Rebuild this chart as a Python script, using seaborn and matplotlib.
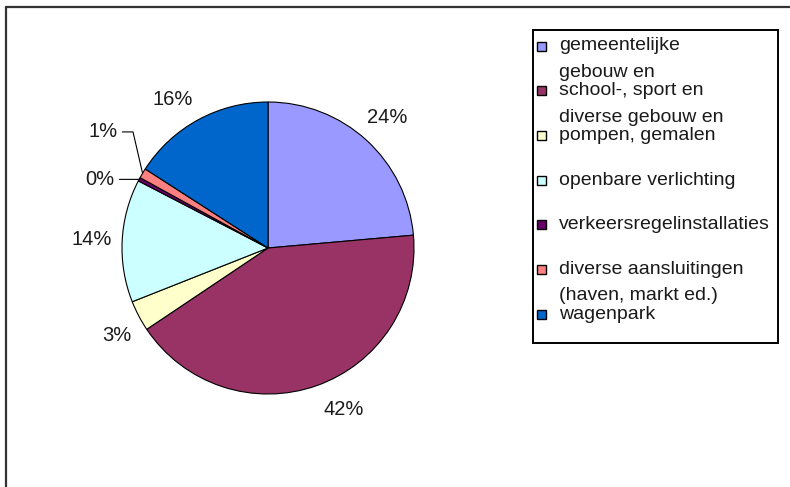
import numpy as np
import matplotlib
matplotlib.use("Agg")
import matplotlib.pyplot as plt
from matplotlib.patches import Rectangle
from matplotlib.lines import Line2D
from matplotlib.transforms import offset_copy
import seaborn as sns

# Energy use per category (percent shares)
categories = [
    "gemeentelijke gebouwen",
    "school-, sport en diverse gebouwen",
    "pompen, gemalen",
    "openbare verlichting",
    "verkeersregelinstallaties",
    "diverse aansluitingen (haven, markt ed.)",
    "wagenpark",
]
shares = [23.6, 42.0, 3.4, 13.6, 0.4, 1.1, 15.9]
slice_colors = ["#9999FF", "#993366", "#FFFFCC", "#CCFFFF", "#660066", "#FF8080", "#0066CC"]

# Legend lines as they wrap inside the legend box (first line beside the marker)
legend_lines = [
    ["gemeentelijke", "gebouw en"],
    ["school-, sport en", "diverse gebouw en"],
    ["pompen, gemalen"],
    ["openbare verlichting"],
    ["verkeersregelinstallaties"],
    ["diverse aansluitingen", "(haven, markt ed.)"],
    ["wagenpark"],
]

sns.set_theme(style="white")
plt.rcParams["font.family"] = ["Liberation Sans", "DejaVu Sans"]
palette = sns.color_palette(slice_colors)
text_color = "#1a1a1a"

W, H = 790, 487
fig = plt.figure(figsize=(W / 100, H / 100), dpi=100)
fig.patch.set_facecolor("white")

# outer frame (top and left edges visible)
frame_kw = dict(color="#333333", lw=1.6, transform=fig.transFigure)
fig.add_artist(Line2D([6 / W, 6 / W], [0, 1 - 7 / H], **frame_kw))
fig.add_artist(Line2D([6 / W, 1.0], [1 - 7 / H, 1 - 7 / H], **frame_kw))

# pie axes: centre (268, 248) px, radius 146 px
cx, cy, R, half = 268, 248, 146, 240
ax = fig.add_axes([(cx - half) / W, (H - cy - half) / H, 2 * half / W, 2 * half / H])
wedges, texts, autotexts = ax.pie(
    shares,
    colors=palette,
    startangle=90,
    counterclock=False,
    radius=1.0,
    autopct=lambda p: f"{p:.0f}%",
    pctdistance=1.21,
    wedgeprops=dict(edgecolor="black", linewidth=0.8),
    textprops=dict(fontsize=14.5, color=text_color),
)
lim = half / R
ax.set_xlim(-lim, lim)
ax.set_ylim(-lim, lim)
ax.set_aspect("equal")
ax.axis("off")

# small shifts (in points) so labels sit beside their slices
nudges = {1: (12, 4), 2: (4, -4), 6: (-8, -5)}
for i, (dx, dy) in nudges.items():
    autotexts[i].set_transform(offset_copy(autotexts[i].get_transform(), fig=fig, x=dx, y=dy, units="points"))

# small slices get labels with leader lines
leader = {4: ((-1.05, 0.47), 160), 5: ((-1.03, 0.795), 103)}
for i, (txt_pos, ang_b) in leader.items():
    w = wedges[i]
    mid = np.deg2rad((w.theta1 + w.theta2) / 2)
    edge = (np.cos(mid), np.sin(mid))
    label = autotexts[i].get_text()
    autotexts[i].set_visible(False)
    ax.annotate(
        label, xy=edge, xytext=txt_pos, ha="right", va="center",
        fontsize=14.5, color=text_color,
        arrowprops=dict(arrowstyle="-", color="black", lw=0.8,
                        connectionstyle=f"angle,angleA=0,angleB={ang_b}",
                        shrinkA=1, shrinkB=0),
    )

# legend box
lx0, ly0, lx1, ly1 = 533, 30, 778, 343
lax = fig.add_axes([lx0 / W, 1 - ly1 / H, (lx1 - lx0) / W, (ly1 - ly0) / H])
lax.set_xlim(0, lx1 - lx0)
lax.set_ylim(ly1 - ly0, 0)
lax.set_xticks([])
lax.set_yticks([])
for s in lax.spines.values():
    s.set_visible(True)
    s.set_color("black")
    s.set_linewidth(1.4)

row_step = 44.7
for k, (lines, col) in enumerate(zip(legend_lines, palette)):
    y = 16 + k * row_step
    lax.add_patch(Rectangle((4, y - 4.5), 9, 9, facecolor=col, edgecolor="black", lw=1.0))
    for j, line in enumerate(lines):
        lax.text(26, y + j * 26.5, line, ha="left", va="center", fontsize=14,
                 color=text_color, clip_on=True)

fig.savefig("out.png", dpi=100, facecolor="white")
